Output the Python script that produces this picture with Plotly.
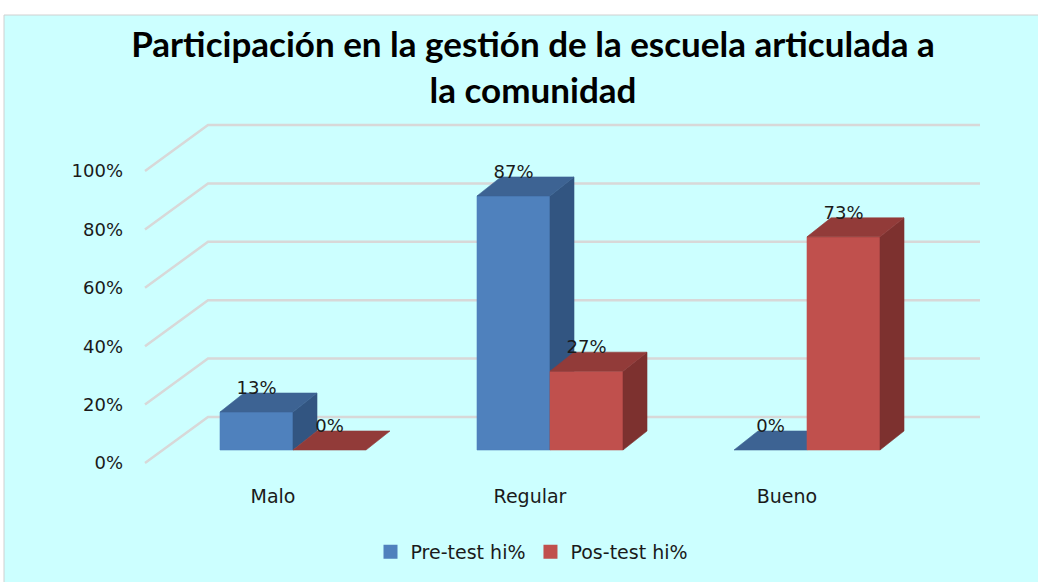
import plotly.graph_objects as go

# ---------------- data ----------------
categories = ["Malo", "Regular", "Bueno"]
pre_test = [13, 87, 0]
pos_test = [0, 27, 73]
series_names = ["Pre-test hi%", "Pos-test hi%"]
y_ticks = [0, 20, 40, 60, 80, 100]
title_text = "Participación en la gestión de la escuela articulada a<br>la comunidad"

# ---------------- style / geometry ----------------
W, H = 1038, 582
L, R, T, B = 140, 990, 110, 483
K = 2.92                      # px per percent unit
PX_CAT = 257.0                # px per category
X0_PX = 293.0                 # px of category 0 centre
YMIN = -(B - 463) / K
YMAX = YMIN + (B - T) / K
XMIN = (L - X0_PX) / PX_CAT
XMAX = (R - X0_PX) / PX_CAT

FRONT_BASE = (463 - 450) / K  # bar front plane floor
BACK_OFF = (463 - 417) / K    # back wall offset
DEPTH_DX = 24 / PX_CAT
DEPTH_DY = 19 / K
GRID_FRONT_X = (145 - X0_PX) / PX_CAT
GRID_BACK_X = (208 - X0_PX) / PX_CAT
GRID_RIGHT_X = (980 - X0_PX) / PX_CAT
BAR_W = 73 / PX_CAT
LABEL_PAD = 1.3
CAT_LABEL_DX = -20 / PX_CAT

colors = [
    {"front": "#4F81BD", "top": "#3D6393", "side": "#325581"},
    {"front": "#C0504D", "top": "#923B39", "side": "#7D312F"},
]
offsets = [-BAR_W, 0.0]
BG = "#CCFFFF"
GRID = "#D8D8D8"
FONT = "DejaVu Sans"

fig = go.Figure()

# 3D gridlines (floor-to-wall diagonals + back wall lines)
gx, gy = [], []
for g in y_ticks:
    gx += [GRID_FRONT_X, GRID_BACK_X, GRID_RIGHT_X, None]
    gy += [g, g + BACK_OFF, g + BACK_OFF, None]
fig.add_trace(go.Scatter(x=gx, y=gy, mode="lines", line=dict(color=GRID, width=2.5),
                         hoverinfo="skip", showlegend=False))


def poly(xs, ys, color):
    fig.add_trace(go.Scatter(x=xs + [xs[0]], y=ys + [ys[0]], mode="lines", fill="toself",
                             fillcolor=color, line=dict(color=color, width=0.6),
                             hoverinfo="skip", showlegend=False))


series_vals = [pre_test, pos_test]
lab_x, lab_y, lab_t = [], [], []
for i, cat in enumerate(categories):
    for s, vals in enumerate(series_vals):
        v = vals[i]
        c = colors[s]
        x0 = i + offsets[s]
        x1 = x0 + BAR_W
        b = FRONT_BASE
        t = FRONT_BASE + v
        if v > 0:
            poly([x0, x1, x1, x0], [b, b, t, t], c["front"])
            poly([x1, x1 + DEPTH_DX, x1 + DEPTH_DX, x1], [b, b + DEPTH_DY, t + DEPTH_DY, t], c["side"])
        poly([x0, x0 + DEPTH_DX, x1 + DEPTH_DX, x1], [t, t + DEPTH_DY, t + DEPTH_DY, t], c["top"])
        lab_x.append((x0 + x1) / 2)
        lab_y.append(t + DEPTH_DY + LABEL_PAD)
        lab_t.append(f"{v}%")

fig.add_trace(go.Scatter(x=lab_x, y=lab_y, text=lab_t, mode="text", textposition="middle center",
                         textfont=dict(family=FONT, size=18, color="#1a1a1a"),
                         hoverinfo="skip", showlegend=False))

# legend entries
for s, name in enumerate(series_names):
    fig.add_trace(go.Scatter(x=[None], y=[None], mode="markers", name=name,
                             marker=dict(symbol="square", size=14, color=colors[s]["front"])))

# chart area background with border
fig.add_shape(type="rect", xref="paper", yref="paper",
              x0=(4 - L) / (R - L), x1=(W + 5 - L) / (R - L),
              y0=(B - (H + 5)) / (B - T), y1=(B - 15) / (B - T),
              fillcolor=BG, line=dict(color="#D0D0D0", width=1), layer="below")

fig.update_layout(
    width=W, height=H,
    margin=dict(l=L, r=W - R, t=T, b=H - B, pad=0, autoexpand=False),
    paper_bgcolor="white", plot_bgcolor="rgba(0,0,0,0)",
    title=dict(text="<b>" + title_text + "</b>", x=533 / W, xanchor="center",
               y=1 - 57 / H, yanchor="middle", yref="container",
               font=dict(family="Liberation Sans Narrow, Lato, Arial", size=35, color="#000000")),
    xaxis=dict(range=[XMIN, XMAX], showgrid=False, zeroline=False, showline=False,
               tickvals=[i + CAT_LABEL_DX for i in range(len(categories))], ticktext=categories,
               ticks="", ticklabelstandoff=0, automargin=False,
               tickfont=dict(family=FONT, size=19, color="#1a1a1a"), fixedrange=True),
    yaxis=dict(range=[YMIN, YMAX], showgrid=False, zeroline=False, showline=False,
               tickvals=y_ticks, ticktext=[f"{v}%" for v in y_ticks], ticks="",
               ticklabelstandoff=16, automargin=False,
               tickfont=dict(family=FONT, size=18, color="#1a1a1a"), fixedrange=True),
    legend=dict(orientation="h", x=(532 - L) / (R - L), xanchor="center",
                y=(B - 552) / (B - T), yanchor="middle", bgcolor="rgba(0,0,0,0)",
                font=dict(family=FONT, size=19, color="#1a1a1a"), itemwidth=30),
    showlegend=True,
)

fig.write_html("out.html", post_script="document.body.style.margin='0';",
               config={"displayModeBar": False})
